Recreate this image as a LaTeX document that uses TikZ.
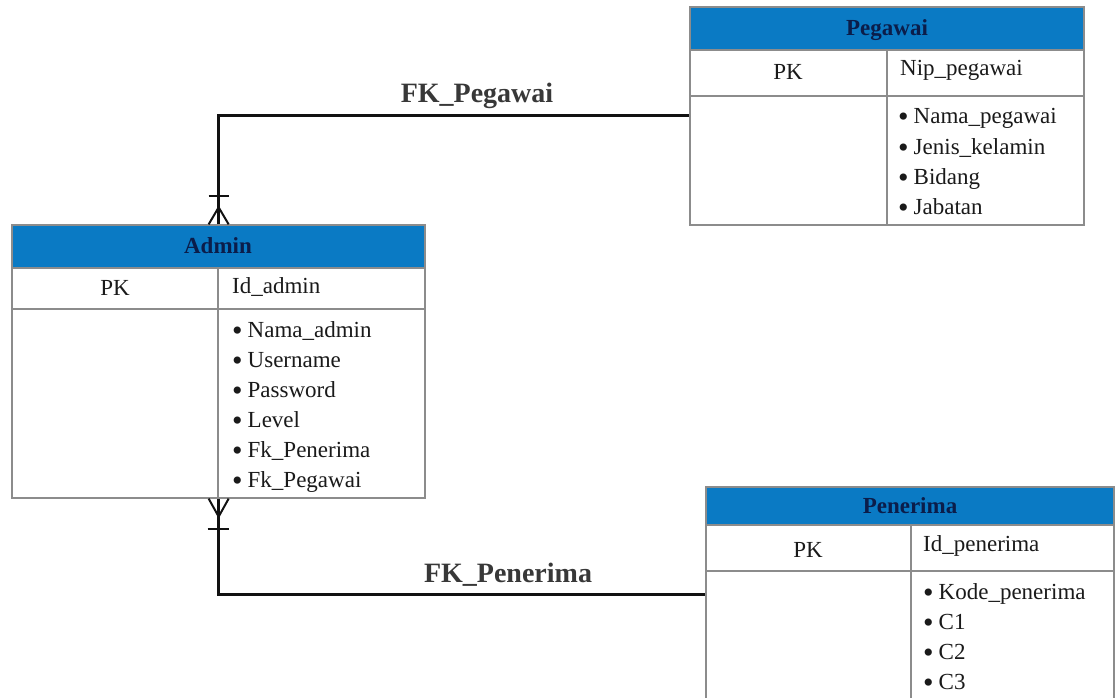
\documentclass[tikz,border=0pt]{standalone}
\usepackage{fontspec}
\setmainfont{Liberation Serif}
\usetikzlibrary{fit}
\definecolor{hdrblue}{HTML}{0A7AC4}
\definecolor{hdrtext}{HTML}{0B1D4A}
\definecolor{tblline}{HTML}{8C8C8C}
\definecolor{conncol}{HTML}{111111}
\definecolor{lblcol}{HTML}{383838}
\definecolor{txtcol}{HTML}{1A1A1A}
% list bullet, a little heavier than the text font's own
\newcommand\attrbul{{\fontsize{30}{30}\selectfont\raisebox{-3pt}{\textbullet}}\hspace{5pt}}
\begin{document}
\begin{tikzpicture}[x=1pt,y=-1pt,
  cell/.style={draw=tblline, fill=white, line width=1.3pt, inner sep=0pt},
  headcell/.style={cell, fill=hdrblue},
  headtext/.style={text=hdrtext, font=\bfseries\fontsize{23}{27}\selectfont, inner sep=0pt, anchor=base},
  pktext/.style={text=txtcol, font=\fontsize{23}{27}\selectfont, inner sep=0pt, anchor=base},
  item/.style={text=txtcol, font=\fontsize{23}{27}\selectfont, inner sep=0pt, anchor=base west},
  conn/.style={draw=conncol, line width=2.4pt},
  crow/.style={draw=conncol, line width=2pt},
  fklabel/.style={text=lblcol, font=\bfseries\fontsize{28}{32}\selectfont, inner sep=0pt, anchor=base}]
\useasboundingbox (0,0) rectangle (1116,698);
\clip (0,0) rectangle (1116,698);
\fill[white] (0,0) rectangle (1116,698);

% ---------- Pegawai ----------
\node[headcell, fit={(690,7) (1084,50)}] (pegH) {};
\node[cell, fit={(690,50) (887,96)}] (pegPK) {};
\node[cell, fit={(887,50) (1084,96)}] (pegKey) {};
\node[cell, fit={(690,96) (887,225)}] (pegL) {};
\node[cell, fit={(887,96) (1084,225)}] (pegR) {};
\node[headtext] (pegT) at (887,36) {Pegawai};
\node[pktext] (pegPKt) at (788,80) {PK};
\node[item] (pegK) at (900,76) {Nip\_pegawai};
\node[item] (peg1) at (898,124) {\attrbul Nama\_pegawai};
\node[item] (peg2) at (898,154) {\attrbul Jenis\_kelamin};
\node[item] (peg3) at (898,184) {\attrbul Bidang};
\node[item] (peg4) at (898,214) {\attrbul Jabatan};

% ---------- Admin ----------
\node[headcell, fit={(12,225) (425,268)}] (admH) {};
\node[cell, fit={(12,268) (218,309)}] (admPK) {};
\node[cell, fit={(218,268) (425,309)}] (admKey) {};
\node[cell, fit={(12,309) (218,498)}] (admL) {};
\node[cell, fit={(218,309) (425,498)}] (admR) {};
\node[headtext] (admT) at (218,253) {Admin};
\node[pktext] (admPKt) at (115,295) {PK};
\node[item] (admK) at (232,293) {Id\_admin};
\node[item] (adm1) at (232,337) {\attrbul Nama\_admin};
\node[item] (adm2) at (232,367) {\attrbul Username};
\node[item] (adm3) at (232,397) {\attrbul Password};
\node[item] (adm4) at (232,427) {\attrbul Level};
\node[item] (adm5) at (232,457) {\attrbul Fk\_Penerima};
\node[item] (adm6) at (232,487) {\attrbul Fk\_Pegawai};

% ---------- Penerima ----------
\node[headcell, fit={(706,487) (1114,525)}] (penH) {};
\node[cell, fit={(706,525) (911,571)}] (penPK) {};
\node[cell, fit={(911,525) (1114,571)}] (penKey) {};
\node[cell, fit={(706,571) (911,720)}] (penL) {};
\node[cell, fit={(911,571) (1114,720)}] (penR) {};
\node[headtext] (penT) at (910,513) {Penerima};
\node[pktext] (penPKt) at (808,557) {PK};
\node[item] (penK) at (923,551) {Id\_penerima};
\node[item] (pen1) at (923,599) {\attrbul Kode\_penerima};
\node[item] (pen2) at (923,629) {\attrbul C1};
\node[item] (pen3) at (923,659) {\attrbul C2};
\node[item] (pen4) at (923,689) {\attrbul C3};

% ---------- FK_Pegawai: Admin (many) to Pegawai (one) ----------
\coordinate (aTop) at (admH.north -| admPK.east);
\draw[conn] (aTop) |- ([yshift=-20pt]pegL.north west);
\draw[crow] ([xshift=-10pt]aTop) -- ([yshift=17pt]aTop) -- ([xshift=10pt]aTop);
\draw[crow] ([xshift=-10pt,yshift=28pt]aTop) -- ([xshift=10pt,yshift=28pt]aTop);
\node[fklabel] (lblPeg) at (477,103) {FK\_Pegawai};

% ---------- FK_Penerima: Admin (many) to Penerima (one) ----------
\coordinate (aBot) at (admL.south east);
\draw[conn] (aBot) |- ([yshift=-24pt]penL.north west);
\draw[crow] ([xshift=-10pt]aBot) -- ([yshift=-18pt]aBot) -- ([xshift=10pt]aBot);
\draw[crow] ([xshift=-11pt,yshift=-30pt]aBot) -- ([xshift=10pt,yshift=-30pt]aBot);
\node[fklabel] (lblPen) at (508,582) {FK\_Penerima};
\end{tikzpicture}
\end{document}
